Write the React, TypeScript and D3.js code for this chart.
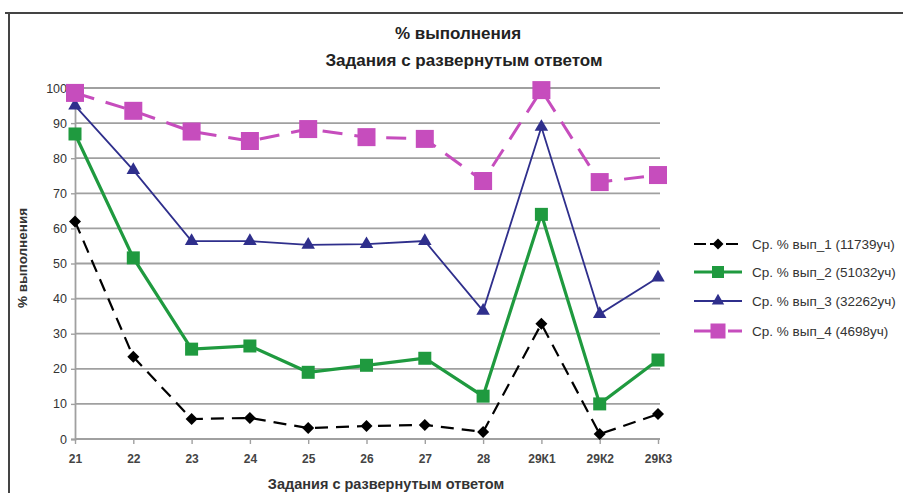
import { useEffect, useRef } from "react";
import * as d3 from "d3";

const categories = ["21", "22", "23", "24", "25", "26", "27", "28", "29К1", "29К2", "29К3"];
const yTicks = [0, 10, 20, 30, 40, 50, 60, 70, 80, 90, 100];

const vyp1 = [62, 23.4, 5.7, 6, 3.1, 3.7, 4, 2, 32.8, 1.4, 7.1];
const vyp2 = [86.9, 51.6, 25.6, 26.5, 19, 21, 23, 12.2, 64, 10, 22.5];
const vyp3 = [95, 76.6, 56.4, 56.4, 55.3, 55.5, 56.4, 36.5, 88.9, 35.6, 46];
const vyp4 = [98.6, 93.5, 87.6, 84.9, 88.3, 86, 85.5, 73.5, 99.4, 73.2, 75.2];

const seriesNames = [
  "Ср. % вып_1 (11739уч)",
  "Ср. % вып_2 (51032уч)",
  "Ср. % вып_3 (32262уч)",
  "Ср. % вып_4 (4698уч)",
];

export default function App() {
  const ref = useRef<SVGSVGElement>(null);

  useEffect(() => {
    const svg = d3.select(ref.current);
    svg.selectAll("*").remove();

    const width = 903;
    const height = 493;
    const font = "'Liberation Sans', Arial, sans-serif";

    svg.attr("width", width).attr("height", height);
    svg.append("rect").attr("width", width).attr("height", height).attr("fill", "#fff");

    // outer frame (cut off at right/bottom)
    svg.append("line").attr("x1", 5).attr("x2", width).attr("y1", 13).attr("y2", 13)
      .attr("stroke", "#444").attr("stroke-width", 2);
    svg.append("line").attr("x1", 9).attr("x2", 9).attr("y1", 13).attr("y2", height)
      .attr("stroke", "#444").attr("stroke-width", 2);

    const x = d3.scalePoint().domain(categories).range([75, 658]);
    const y = d3.scaleLinear().domain([0, 100]).range([439, 88]);

    // gridlines
    svg.append("g").selectAll("line").data(yTicks.filter(d => d > 0)).join("line")
      .attr("x1", 75).attr("x2", 660)
      .attr("y1", d => y(d)).attr("y2", d => y(d))
      .attr("stroke", "#a0a0a0").attr("stroke-width", 1.8);

    const yAxis = svg.append("g").attr("transform", "translate(75,0)")
      .call(d3.axisLeft(y).tickValues(yTicks).tickSize(4).tickPadding(4));
    yAxis.select(".domain").attr("stroke", "#a0a0a0").attr("stroke-width", 1.8);
    yAxis.selectAll(".tick line").attr("stroke", "#a0a0a0").attr("stroke-width", 1.4);
    yAxis.selectAll("text").attr("font-family", font).attr("font-size", 12.5).attr("fill", "#333");

    const xAxis = svg.append("g").attr("transform", `translate(0,${y(0)})`)
      .call(d3.axisBottom(x).tickSize(5).tickPadding(10));
    xAxis.select(".domain").attr("stroke", "#a0a0a0").attr("stroke-width", 1.8)
      .attr("d", `M75,0H660`);
    xAxis.selectAll(".tick line").attr("stroke", "#a0a0a0").attr("stroke-width", 1.4);
    xAxis.selectAll("text").attr("font-family", font).attr("font-size", 12)
      .attr("font-weight", "bold").attr("fill", "#444");

    const series = [
      { values: vyp1, color: "#000", width: 2.2, dash: "13,8", marker: "diamond", size: 12 },
      { values: vyp2, color: "#1f9a3f", width: 3.2, dash: null, marker: "square", size: 13 },
      { values: vyp3, color: "#2f2f8c", width: 1.8, dash: null, marker: "triangle", size: 12 },
      { values: vyp4, color: "#c64dbd", width: 3, dash: "20,12", marker: "square", size: 18 },
    ];

    const line = d3.line<number>()
      .x((_, i) => x(categories[i]) as number)
      .y(d => y(d));

    const drawMarker = (g: any, m: string, size: number, color: string, cx: number, cy: number) => {
      if (m === "square") {
        g.append("rect").attr("x", cx - size / 2).attr("y", cy - size / 2)
          .attr("width", size).attr("height", size).attr("fill", color);
      } else if (m === "diamond") {
        const h = size / 2;
        g.append("path")
          .attr("d", `M${cx},${cy - h}L${cx + h},${cy}L${cx},${cy + h}L${cx - h},${cy}Z`)
          .attr("fill", color);
      } else {
        g.append("path")
          .attr("d", d3.symbol().type(d3.symbolTriangle).size(size * size * 0.55)())
          .attr("transform", `translate(${cx},${cy})`)
          .attr("fill", color);
      }
    };

    series.forEach(s => {
      svg.append("path").attr("d", line(s.values))
        .attr("fill", "none").attr("stroke", s.color).attr("stroke-width", s.width)
        .attr("stroke-dasharray", s.dash);
      const g = svg.append("g");
      s.values.forEach((v, i) => drawMarker(g, s.marker, s.size, s.color, x(categories[i]) as number, y(v)));
    });

    // legend
    const legendY = [244, 272, 301, 331];
    series.forEach((s, i) => {
      const g = svg.append("g");
      g.append("line").attr("x1", 694).attr("x2", 742).attr("y1", legendY[i]).attr("y2", legendY[i])
        .attr("stroke", s.color).attr("stroke-width", s.width)
        .attr("stroke-dasharray", s.dash ? (i === 3 ? "20,14" : "12,4") : null);
      drawMarker(g, s.marker, i === 3 ? 15 : s.size - 1, s.color, 718, legendY[i]);
      g.append("text").attr("x", 752).attr("y", legendY[i] + 5)
        .attr("font-family", font).attr("font-size", 13.5).attr("fill", "#333")
        .text(seriesNames[i]);
    });

    // titles
    svg.append("text").attr("x", 458).attr("y", 39).attr("text-anchor", "middle")
      .attr("font-family", font).attr("font-size", 17).attr("font-weight", "bold").attr("fill", "#222")
      .text("% выполнения");
    svg.append("text").attr("x", 464).attr("y", 66).attr("text-anchor", "middle")
      .attr("font-family", font).attr("font-size", 17).attr("font-weight", "bold").attr("fill", "#222")
      .text("Задания с развернутым ответом");
    svg.append("text").attr("x", 386).attr("y", 489).attr("text-anchor", "middle")
      .attr("font-family", font).attr("font-size", 14.5).attr("font-weight", "bold").attr("fill", "#333")
      .text("Задания с развернутым ответом");
    svg.append("text").attr("transform", "translate(27,258) rotate(-90)").attr("text-anchor", "middle")
      .attr("font-family", font).attr("font-size", 13.5).attr("font-weight", "bold").attr("fill", "#333")
      .text("% выполнения");
  }, []);

  return <svg ref={ref} style={{ position: "absolute", left: 0, top: 0 }}></svg>;
}
